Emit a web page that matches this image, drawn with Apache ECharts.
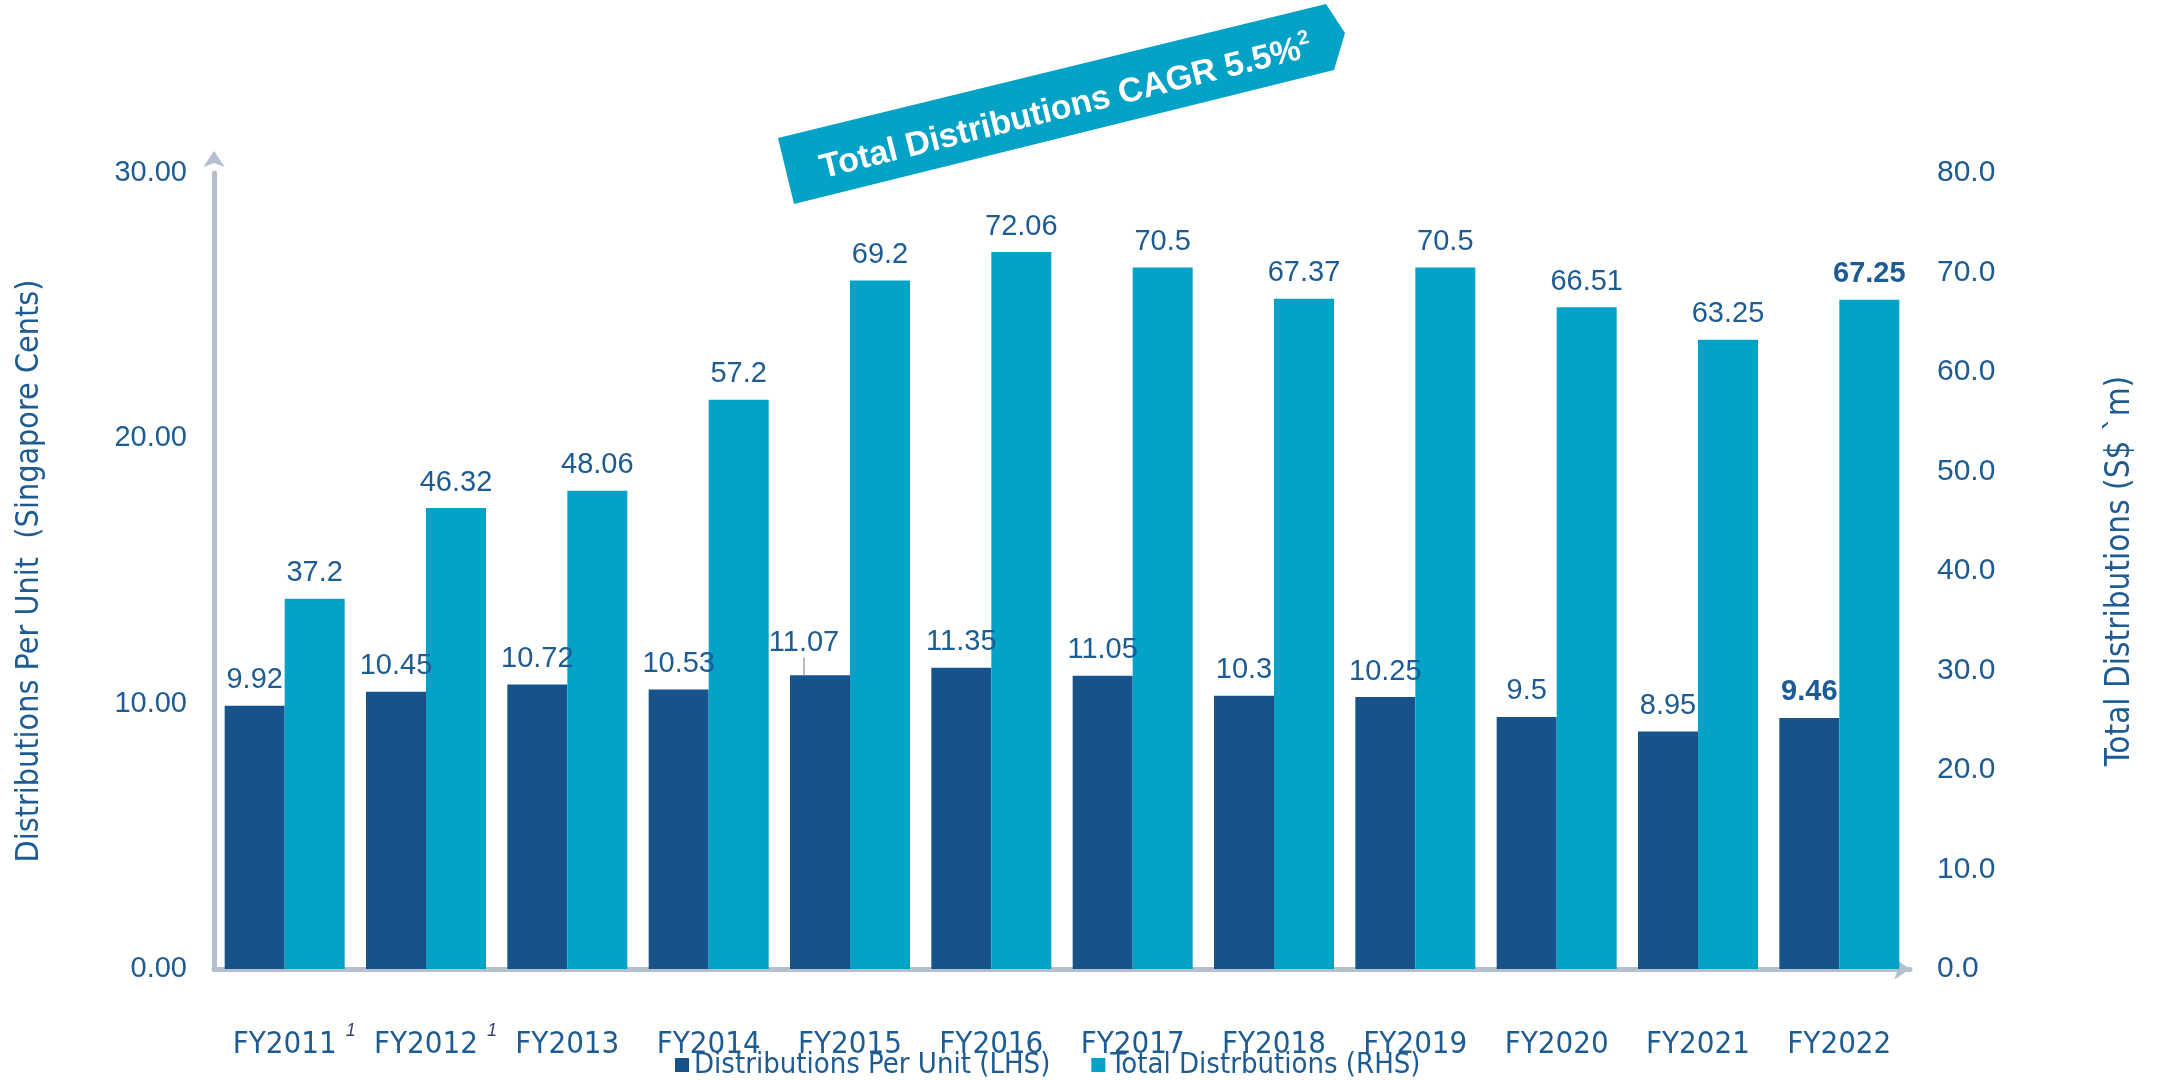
<!DOCTYPE html>
<html>
<head>
<meta charset="utf-8">
<style>
  html, body { margin: 0; padding: 0; background: #ffffff; }
  #chart { width: 2159px; height: 1080px; }
</style>
<script src="https://cdn.jsdelivr.net/npm/echarts@6/dist/echarts.min.js"></script>
</head>
<body>
<div id="chart"></div>
<script>
// Fiscal years and footnote markers shown beside some year labels
const categories = ['FY2011', 'FY2012', 'FY2013', 'FY2014', 'FY2015', 'FY2016',
                    'FY2017', 'FY2018', 'FY2019', 'FY2020', 'FY2021', 'FY2022'];
const footnotes = ['1', '1', '', '', '', '', '', '', '', '', '', ''];

// Distributions per unit (Singapore cents, left axis)
const dpuValues = [9.92, 10.45, 10.72, 10.53, 11.07, 11.35, 11.05, 10.3, 10.25, 9.5, 8.95, 9.46];
// Total distributions (S$ million, right axis)
const totalValues = [37.2, 46.32, 48.06, 57.2, 69.2, 72.06, 70.5, 67.37, 70.5, 66.51, 63.25, 67.25];

// Axis tick values
const leftTicks = [0, 10, 20, 30];
const rightTicks = [0, 10, 20, 30, 40, 50, 60, 70, 80];

const seriesNames = ['Distributions Per Unit (LHS)', 'Total Distrbutions (RHS)'];
const bannerText = 'Total Distributions CAGR 5.5%';
const bannerNote = '2';

const DARK = '#16538a';
const LIGHT = '#03a2c6';
const TEXT = '#1d5b93';
const AXIS = '#b4bfcf';
const NUM_FONT = '"Liberation Sans", Arial, sans-serif';
const NARROW_FONT = '"Liberation Sans Narrow", "Arial Narrow", "DejaVu Sans Condensed", "Liberation Sans", sans-serif';

const lastIdx = categories.length - 1;
const shiftedIdx = 4; // FY2015 DPU label is lifted aside with a guide line

function barData(values, withGuide) {
  return values.map((v, i) => {
    const item = { value: v };
    if (i === lastIdx) item.label = { fontWeight: 'bold' };
    if (withGuide && i !== shiftedIdx) item.labelLine = { show: false };
    return item;
  });
}

const chart = echarts.init(document.getElementById('chart'), null, { renderer: 'canvas' });

const valueLabel = {
  show: true,
  position: 'top',
  distance: 11,
  color: TEXT,
  fontFamily: NUM_FONT,
  fontSize: 29,
  formatter: '{c}'
};

chart.setOption({
  animation: false,
  backgroundColor: '#ffffff',
  grid: { left: 214, right: 249, top: 173, bottom: 111, containLabel: false, outerBoundsMode: 'none' },
  legend: {
    data: seriesNames,
    left: 675,
    top: 1048,
    padding: 0,
    itemWidth: 14,
    itemHeight: 14,
    itemGap: 41,
    icon: 'rect',
    textStyle: { color: TEXT, fontFamily: NARROW_FONT, fontSize: 29, lineHeight: 34 }
  },
  xAxis: {
    type: 'category',
    data: categories,
    axisLine: {
      show: true,
      symbol: ['none', 'arrow'],
      symbolSize: [16, 16],
      lineStyle: { color: AXIS, width: 5 }
    },
    axisTick: { show: false },
    axisLabel: {
      interval: 0,
      margin: 53,
      formatter: function (value, idx) {
        const note = footnotes[idx];
        return note ? '{pad|}{t|' + value + '}{sup|' + note + '}' : '{t|' + value + '}';
      },
      rich: {
        t: { color: TEXT, fontFamily: NARROW_FONT, fontSize: 31, lineHeight: 46 },
        pad: { width: 28 },
        sup: { color: '#3b3f6e', fontFamily: NUM_FONT, fontStyle: 'italic', fontSize: 18,
               lineHeight: 18, width: 28, align: 'center', verticalAlign: 'top' }
      }
    }
  },
  yAxis: [
    {
      type: 'value',
      min: leftTicks[0],
      max: leftTicks[leftTicks.length - 1],
      interval: leftTicks[1] - leftTicks[0],
      name: 'Distributions Per Unit  (Singapore Cents)',
      nameLocation: 'middle',
      nameRotate: 90,
      nameGap: 168,
      nameTextStyle: { color: TEXT, fontFamily: NARROW_FONT, fontSize: 32 },
      axisLine: {
        show: true,
        symbol: ['none', 'arrow'],
        symbolSize: [16, 16],
        symbolOffset: [0, 22],
        lineStyle: { color: AXIS, width: 5 }
      },
      axisTick: { show: false },
      splitLine: { show: false },
      axisLabel: {
        margin: 27,
        color: TEXT,
        fontFamily: NUM_FONT,
        fontSize: 29,
        formatter: v => v.toFixed(2)
      }
    },
    {
      type: 'value',
      min: rightTicks[0],
      max: rightTicks[rightTicks.length - 1],
      interval: rightTicks[1] - rightTicks[0],
      name: 'Total Distributions (S$ `m)',
      nameLocation: 'middle',
      nameRotate: 90,
      nameGap: 194,
      nameTextStyle: { color: TEXT, fontFamily: NARROW_FONT, fontSize: 33 },
      axisLine: { show: false },
      axisTick: { show: false },
      splitLine: { show: false },
      axisLabel: {
        margin: 27,
        color: TEXT,
        fontFamily: NUM_FONT,
        fontSize: 30,
        formatter: v => v.toFixed(1)
      }
    }
  ],
  series: [
    {
      name: seriesNames[0],
      type: 'bar',
      yAxisIndex: 0,
      barWidth: 60,
      barGap: '0%',
      itemStyle: { color: DARK },
      data: barData(dpuValues, true),
      label: valueLabel,
      // lift the FY2015 label up and to the left, keeping it centred on its new spot
      labelLayout: function (params) {
        if (params.dataIndex !== shiftedIdx) return;
        const r = params.labelRect;
        return {
          x: r.x + r.width / 2 - 16,
          y: r.y + r.height / 2 - 7,
          align: 'center',
          verticalAlign: 'middle'
        };
      },
      labelLine: { show: true, lineStyle: { color: '#a6a6a6', width: 1.5 } }
    },
    {
      name: seriesNames[1],
      type: 'bar',
      yAxisIndex: 1,
      barWidth: 60,
      barGap: '0%',
      itemStyle: { color: LIGHT },
      data: barData(totalValues, false),
      label: valueLabel
    }
  ],
  graphic: [
    {
      type: 'polygon',
      z: 100,
      shape: { points: [[778, 138], [1326, 4], [1345, 33], [1334, 70], [794, 204]] },
      style: { fill: LIGHT }
    },
    {
      type: 'text',
      z: 101,
      x: 1066,
      y: 108,
      rotation: 14 * Math.PI / 180,
      style: {
        text: '{m|' + bannerText + '}{s|' + bannerNote + '}',
        align: 'center',
        verticalAlign: 'middle',
        rich: {
          m: { fill: '#ffffff', fontFamily: NUM_FONT, fontWeight: 'bold', fontSize: 34, lineHeight: 40 },
          s: { fill: '#ffffff', fontFamily: NUM_FONT, fontWeight: 'bold', fontSize: 20, lineHeight: 20, verticalAlign: 'top' }
        }
      }
    }
  ]
});
</script>
</body>
</html>
